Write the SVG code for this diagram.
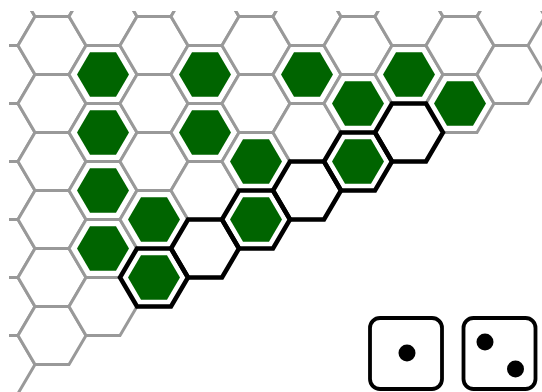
<svg xmlns="http://www.w3.org/2000/svg" xmlns:xlink="http://www.w3.org/1999/xlink" width="542" height="392" viewBox="0 0 542 392">
<style>
.cell{fill:#ffffff;stroke:#999999;stroke-width:3}
.sel{fill:none;stroke:#000000;stroke-width:4.5;stroke-linejoin:miter}
.stone{fill:#006400;stroke:none}
.die{fill:#ffffff;stroke:#000000;stroke-width:3.8}
.pip{fill:#000000}
</style>
<defs>
<polygon id="hex" points="-34,0 -17,-29 17,-29 34,0 17,29 -17,29"/>
<polygon id="inner" points="-26,0 -13,-22.3 13,-22.3 26,0 13,22.3 -13,22.3"/>
<clipPath id="board"><rect x="9" y="11" width="540" height="390"/></clipPath>
</defs>
<rect width="542" height="392" fill="#ffffff"/>
<g id="grid" clip-path="url(#board)">
<!-- column -1 (x=1) -->
<use class="cell" href="#hex" x="1" y="16.5"/>
<use class="cell" href="#hex" x="1" y="74.5"/>
<use class="cell" href="#hex" x="1" y="132.5"/>
<use class="cell" href="#hex" x="1" y="190.5"/>
<use class="cell" href="#hex" x="1" y="248.5"/>
<use class="cell" href="#hex" x="1" y="306.5"/>
<use class="cell" href="#hex" x="1" y="364.5"/>
<!-- column 0 (x=52) -->
<use class="cell" href="#hex" x="52" y="-12.5"/>
<use class="cell" href="#hex" x="52" y="45.5"/>
<use class="cell" href="#hex" x="52" y="103.5"/>
<use class="cell" href="#hex" x="52" y="161.5"/>
<use class="cell" href="#hex" x="52" y="219.5"/>
<use class="cell" href="#hex" x="52" y="277.5"/>
<use class="cell" href="#hex" x="52" y="335.5"/>
<!-- column 1 (x=103) -->
<use class="cell" href="#hex" x="103" y="16.5"/>
<use class="cell" href="#hex" x="103" y="74.5"/>
<use class="cell" href="#hex" x="103" y="132.5"/>
<use class="cell" href="#hex" x="103" y="190.5"/>
<use class="cell" href="#hex" x="103" y="248.5"/>
<use class="cell" href="#hex" x="103" y="306.5"/>
<!-- column 2 (x=154) -->
<use class="cell" href="#hex" x="154" y="-12.5"/>
<use class="cell" href="#hex" x="154" y="45.5"/>
<use class="cell" href="#hex" x="154" y="103.5"/>
<use class="cell" href="#hex" x="154" y="161.5"/>
<use class="cell" href="#hex" x="154" y="219.5"/>
<use class="cell" href="#hex" x="154" y="277.5"/>
<!-- column 3 (x=205) -->
<use class="cell" href="#hex" x="205" y="16.5"/>
<use class="cell" href="#hex" x="205" y="74.5"/>
<use class="cell" href="#hex" x="205" y="132.5"/>
<use class="cell" href="#hex" x="205" y="190.5"/>
<use class="cell" href="#hex" x="205" y="248.5"/>
<!-- column 4 (x=256) -->
<use class="cell" href="#hex" x="256" y="-12.5"/>
<use class="cell" href="#hex" x="256" y="45.5"/>
<use class="cell" href="#hex" x="256" y="103.5"/>
<use class="cell" href="#hex" x="256" y="161.5"/>
<use class="cell" href="#hex" x="256" y="219.5"/>
<!-- column 5 (x=307) -->
<use class="cell" href="#hex" x="307" y="16.5"/>
<use class="cell" href="#hex" x="307" y="74.5"/>
<use class="cell" href="#hex" x="307" y="132.5"/>
<use class="cell" href="#hex" x="307" y="190.5"/>
<!-- column 6 (x=358) -->
<use class="cell" href="#hex" x="358" y="-12.5"/>
<use class="cell" href="#hex" x="358" y="45.5"/>
<use class="cell" href="#hex" x="358" y="103.5"/>
<use class="cell" href="#hex" x="358" y="161.5"/>
<!-- column 7 (x=409) -->
<use class="cell" href="#hex" x="409" y="16.5"/>
<use class="cell" href="#hex" x="409" y="74.5"/>
<use class="cell" href="#hex" x="409" y="132.5"/>
<!-- column 8 (x=460) -->
<use class="cell" href="#hex" x="460" y="-12.5"/>
<use class="cell" href="#hex" x="460" y="45.5"/>
<use class="cell" href="#hex" x="460" y="103.5"/>
<!-- column 9 (x=511) -->
<use class="cell" href="#hex" x="511" y="16.5"/>
<use class="cell" href="#hex" x="511" y="74.5"/>
</g>
<g id="path">
<use class="sel" href="#hex" x="154" y="277.5"/>
<use class="sel" href="#hex" x="205" y="248.5"/>
<use class="sel" href="#hex" x="256" y="219.5"/>
<use class="sel" href="#hex" x="307" y="190.5"/>
<use class="sel" href="#hex" x="358" y="161.5"/>
<use class="sel" href="#hex" x="409" y="132.5"/>
</g>
<g id="stones">
<use class="stone" href="#inner" x="103" y="74.5"/>
<use class="stone" href="#inner" x="103" y="132.5"/>
<use class="stone" href="#inner" x="103" y="190.5"/>
<use class="stone" href="#inner" x="103" y="248.5"/>
<use class="stone" href="#inner" x="154" y="219.5"/>
<use class="stone" href="#inner" x="154" y="277.5"/>
<use class="stone" href="#inner" x="205" y="74.5"/>
<use class="stone" href="#inner" x="205" y="132.5"/>
<use class="stone" href="#inner" x="256" y="161.5"/>
<use class="stone" href="#inner" x="256" y="219.5"/>
<use class="stone" href="#inner" x="307" y="74.5"/>
<use class="stone" href="#inner" x="358" y="103.5"/>
<use class="stone" href="#inner" x="358" y="161.5"/>
<use class="stone" href="#inner" x="409" y="74.5"/>
<use class="stone" href="#inner" x="460" y="103.5"/>
</g>
<g id="die1">
<rect class="die" x="370" y="318" width="72" height="71" rx="10" ry="10"/>
<circle class="pip" cx="407" cy="353" r="8.5"/>
</g>
<g id="die2">
<rect class="die" x="463.5" y="318" width="72" height="71" rx="10" ry="10"/>
<circle class="pip" cx="485" cy="342" r="8.5"/>
<circle class="pip" cx="515.5" cy="369" r="8.5"/>
</g>
</svg>
